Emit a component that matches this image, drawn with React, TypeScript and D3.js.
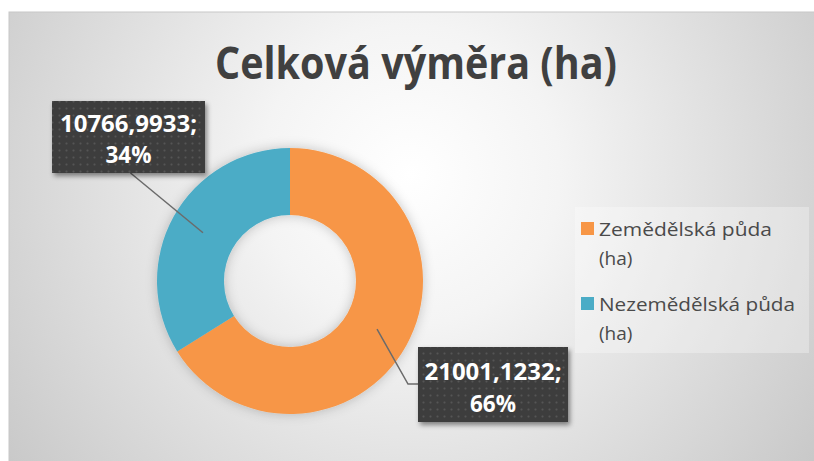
import React from "react";
import * as d3 from "d3";

const W = 814;
const H = 461;

// data
const categories = ["Zemědělská půda (ha)", "Nezemědělská půda (ha)"];
const values = [21001.1232, 10766.9933];
const colors = ["#F79646", "#4BACC6"];
const title = "Celková výměra (ha)";

// layout
const CX = 290;
const CY = 281;
const R_OUT = 133;
const R_IN = 66;
const labelBoxes = [
  { x: 418, y: 347, w: 150, h: 75, b1: 380, b2: 412, elbow: [408, 384] },
  { x: 52, y: 101, w: 153, h: 72, b1: 132, b2: 163, elbow: null },
];

const fmtNum = (v: number) => d3.format(".4f")(v).replace(".", ",");

export default function App() {
  const total = d3.sum(values);
  const pie = d3
    .pie<number>()
    .sort(null)
    .startAngle(0)
    .endAngle(2 * Math.PI)
    .value((d) => d);
  const arcs = pie(values);
  const arc = d3.arc<d3.PieArcDatum<number>>().innerRadius(R_IN).outerRadius(R_OUT);

  const FONT = "'Open Sans', 'DejaVu Sans', sans-serif";

  return (
    <div style={{ position: "absolute", left: 0, top: 0 }}>
      <svg width={W} height={H} style={{ display: "block" }}>
        <defs>
          <radialGradient id="bg" cx="410" cy="175" r="500" gradientUnits="userSpaceOnUse">
            <stop offset="0%" stopColor="#ffffff" />
            <stop offset="30%" stopColor="#f4f4f4" />
            <stop offset="100%" stopColor="#c8c8c8" />
          </radialGradient>
          <pattern id="dots" width="7" height="7" patternUnits="userSpaceOnUse">
            <rect width="7" height="7" fill="#3d3d3d" />
            <circle cx="3.5" cy="3.5" r="1.1" fill="#555555" />
          </pattern>
          <filter id="boxShadow" x="-20%" y="-20%" width="150%" height="150%">
            <feDropShadow dx="2" dy="3" stdDeviation="2.5" floodColor="#000" floodOpacity="0.45" />
          </filter>
          <filter id="ringShadow" x="-30%" y="-30%" width="160%" height="160%">
            <feDropShadow dx="0" dy="0" stdDeviation="6" floodColor="#000" floodOpacity="0.22" />
          </filter>
        </defs>

        <rect x={0} y={0} width={W} height={H} fill="#ffffff" />
        <rect x={9} y={12} width={W} height={H} fill="url(#bg)" stroke="#c8c8c8" strokeWidth={1} />

        <text
          x={416}
          y={79}
          textAnchor="middle"
          fontFamily={FONT}
          fontWeight={700}
          fontSize={45}
          fill="#404040"
          textLength={402}
          lengthAdjust="spacingAndGlyphs"
        >
          {title}
        </text>

        <g transform={`translate(${CX},${CY})`} filter="url(#ringShadow)">
          {arcs.map((a, i) => (
            <path key={i} d={arc(a) || ""} fill={colors[i]} />
          ))}
        </g>

        {/* leader lines */}
        {arcs.map((a, i) => {
          const [mx, my] = arc.centroid(a);
          const sx = CX + mx;
          const sy = CY + my;
          const b = labelBoxes[i];
          let pts: [number, number][];
          if (b.elbow) {
            pts = [[sx, sy], [b.elbow[0], b.elbow[1]], [b.x, b.elbow[1]]];
          } else {
            pts = [[sx, sy], [b.x + b.w / 2 + 2, b.y + b.h]];
          }
          return (
            <path
              key={"l" + i}
              d={d3.line()(pts) || ""}
              fill="none"
              stroke="#6b6b6b"
              strokeWidth={1.5}
            />
          );
        })}

        {/* data labels */}
        {arcs.map((a, i) => {
          const b = labelBoxes[i];
          const pct = Math.round((values[i] / total) * 100);
          const cx = b.x + b.w / 2;
          return (
            <g key={"b" + i}>
              <rect x={b.x} y={b.y} width={b.w} height={b.h} fill="url(#dots)" filter="url(#boxShadow)" />
              <text
                x={cx}
                y={b.b1}
                textAnchor="middle"
                fontFamily={FONT}
                fontWeight={700}
                fontSize={22.5}
                fill="#ffffff"
                textLength={137}
                lengthAdjust="spacingAndGlyphs"
              >
                {fmtNum(values[i]) + ";"}
              </text>
              <text
                x={cx}
                y={b.b2}
                textAnchor="middle"
                fontFamily={FONT}
                fontWeight={700}
                fontSize={22.5}
                fill="#ffffff"
                textLength={46}
                lengthAdjust="spacingAndGlyphs"
              >
                {pct + "%"}
              </text>
            </g>
          );
        })}

        {/* legend */}
        <rect x={575} y={207} width={234} height={146} fill="#ffffff" opacity={0.3} />
        {categories.map((c, i) => {
          const idx = c.lastIndexOf(" (");
          const l1 = c.slice(0, idx);
          const l2 = c.slice(idx + 1);
          const y0 = i === 0 ? 236 : 311;
          return (
            <g key={"lg" + i}>
              <rect x={581} y={y0 - 14} width={13} height={13} fill={colors[i]} />
              <text fontFamily={FONT} fontSize={19} fill="#4a4a4a">
                <tspan x={599} y={y0} textLength={i === 0 ? 173 : 196} lengthAdjust="spacingAndGlyphs">
                  {l1}
                </tspan>
                <tspan x={599} y={y0 + 29}>{l2}</tspan>
              </text>
            </g>
          );
        })}
      </svg>
    </div>
  );
}
